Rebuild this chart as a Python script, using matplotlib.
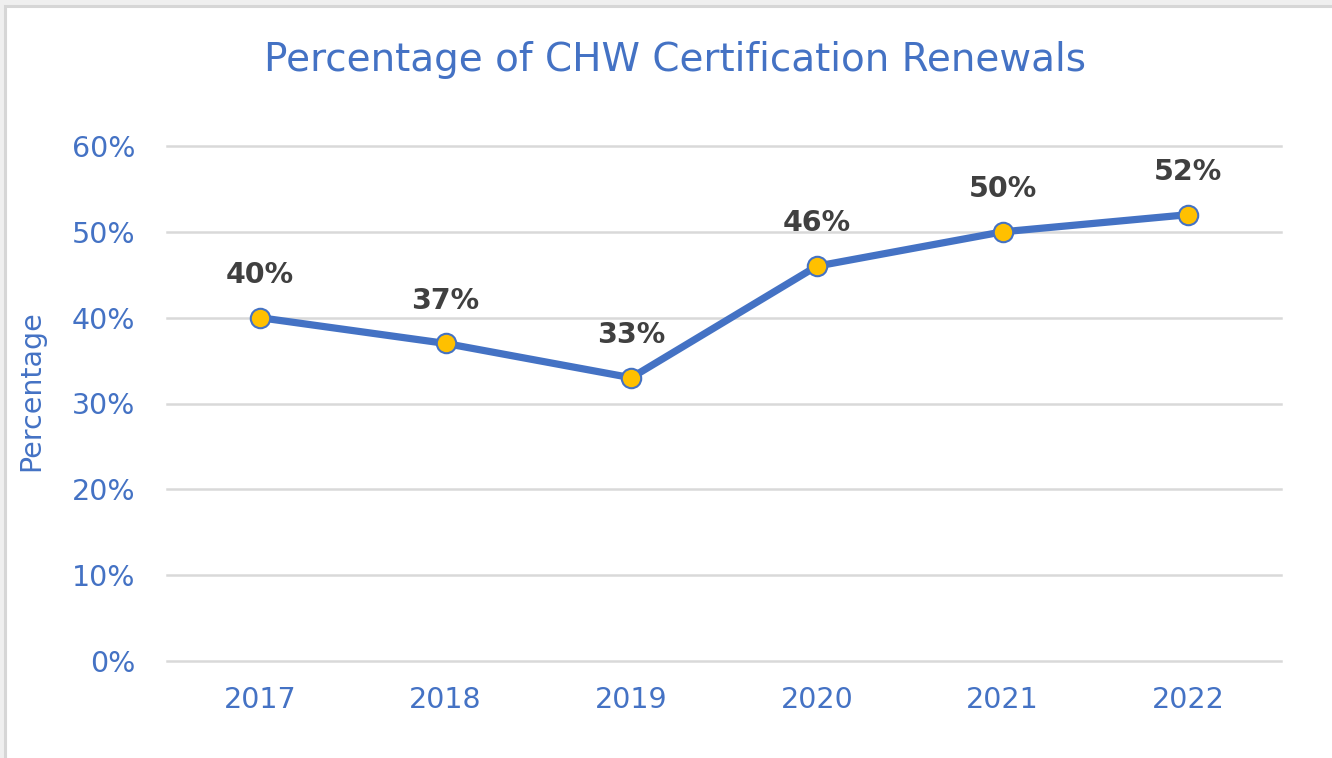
import matplotlib
matplotlib.use("Agg")
import matplotlib.pyplot as plt
from matplotlib.patches import Rectangle
from matplotlib.ticker import FuncFormatter

plt.rcParams["font.family"] = ["DejaVu Sans"]

years = ["2017", "2018", "2019", "2020", "2021", "2022"]
values = [40, 37, 33, 46, 50, 52]
yticks = [0, 10, 20, 30, 40, 50, 60]

BLUE = "#4472C4"
YELLOW = "#FFC000"
GRID = "#D9D9D9"
LABEL = "#404040"

W, H = 1332, 758
fig = plt.figure(figsize=(W / 100, H / 100), dpi=100)
fig.patch.set_facecolor("#EFEFEF")
# white chart area with gray frame (only top and left edges visible)
fig.add_artist(Rectangle((4.5 / W, -10 / H), (W + 20) / W, (H + 10 - 5.5) / H,
                         transform=fig.transFigure, facecolor="white",
                         edgecolor="#D6D6D6", linewidth=2.2, zorder=0))

ax = fig.add_axes([167 / W, (H - 661) / H, (1281 - 167) / W, (661 - 146) / H])
ax.set_facecolor("none")
x = list(range(len(years)))
ax.plot(x, values, color=BLUE, linewidth=5.2, marker="o", markersize=14,
        markerfacecolor=YELLOW, markeredgecolor=BLUE, markeredgewidth=1.5,
        solid_capstyle="round", zorder=3)
for xi, v in zip(x, values):
    ax.annotate(f"{v}%", (xi, v), xytext=(0, 25), textcoords="offset points",
                ha="center", va="baseline", fontsize=20.5, fontweight="bold",
                color=LABEL, zorder=4)

ax.set_xlim(-0.5, len(years) - 0.5)
ax.set_ylim(0, 60)
ax.set_yticks(yticks)
ax.yaxis.set_major_formatter(FuncFormatter(lambda v, p: f"{int(v)}%"))
ax.set_xticks(x)
ax.set_xticklabels(years)
ax.grid(axis="y", color=GRID, linewidth=1.8, zorder=0)
for gl in ax.get_ygridlines():
    gl.set_clip_on(False)
ax.set_axisbelow(True)
for s in ax.spines.values():
    s.set_visible(False)
ax.tick_params(axis="both", length=0, labelsize=20.5, labelcolor=BLUE)
ax.tick_params(axis="x", pad=18)
ax.tick_params(axis="y", pad=23)
ax.set_ylabel("Percentage", fontsize=20.5, color=BLUE)
ax.yaxis.set_label_coords(-122 / (1281 - 167), (661 - 391) / (661 - 146))

fig.text(675 / W, (H - 60) / H, "Percentage of CHW Certification Renewals",
         ha="center", va="center", fontsize=28, color=BLUE)

fig.savefig("out.png", dpi=100, facecolor=fig.get_facecolor())
